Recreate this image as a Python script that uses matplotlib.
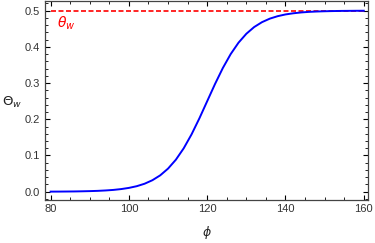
import matplotlib
matplotlib.use("Agg")
import matplotlib.pyplot as plt
from matplotlib.ticker import MultipleLocator

# values
phi = [80, 82, 84, 86, 88, 90, 92, 94, 96, 98,
       100, 102, 104, 106, 108, 110, 112, 114, 116, 118,
       120, 122, 124, 126, 128, 130, 132, 134, 136, 138,
       140, 142, 144, 146, 148, 150, 152, 154, 156, 158, 160]
theta_w = [0.0002, 0.0003, 0.0005, 0.0007, 0.0011, 0.0016, 0.0023, 0.0034, 0.0049, 0.0072,
           0.0105, 0.0152, 0.0220, 0.0317, 0.0452, 0.0638, 0.0884, 0.1199, 0.1583, 0.2025,
           0.2500, 0.2975, 0.3417, 0.3801, 0.4116, 0.4362, 0.4548, 0.4683, 0.4780, 0.4848,
           0.4896, 0.4928, 0.4951, 0.4967, 0.4977, 0.4984, 0.4989, 0.4993, 0.4995, 0.4997, 0.4998]
theta_limit = 0.5

plt.rcParams['font.family'] = ['Liberation Sans', 'DejaVu Sans']
plt.rcParams['mathtext.fontset'] = 'dejavusans'

fig = plt.figure(figsize=(3.75, 2.43), dpi=100)
ax = fig.add_axes([0.1187, 0.177, 0.862, 0.819])

ax.plot([phi[0], phi[-1]], [theta_limit, theta_limit], color='red', lw=1.2,
        dashes=(3.0, 1.5))
ax.plot(phi, theta_w, color='blue', lw=1.4)
ax.text(81.6, 0.465, r'$\theta_w$', color='red', fontsize=10, ha='left', va='center')

ax.set_xlim(78.44, 161.02)
ax.set_ylim(-0.0229, 0.5268)
ax.xaxis.set_major_locator(MultipleLocator(20))
ax.xaxis.set_minor_locator(MultipleLocator(5))
ax.yaxis.set_major_locator(MultipleLocator(0.1))
ax.yaxis.set_minor_locator(MultipleLocator(0.02))
ax.yaxis.set_major_formatter(plt.FuncFormatter(lambda v, p: f"{v:.1f}"))
ax.tick_params(which='both', direction='in', top=True, right=True,
               labelsize=8, labelcolor='#333333', pad=3)
ax.tick_params(which='major', length=3.5, width=0.8)
ax.tick_params(which='minor', length=2, width=0.6)
for s in ax.spines.values():
    s.set_linewidth(0.9)
    s.set_color('#444444')

fig.text(0.004, 0.58, r'$\Theta_w$', fontsize=9.5, ha='left', va='center', color='#222222')
fig.text(0.553, 0.045, r'$\phi$', fontsize=9, ha='center', va='center', color='#222222')

fig.savefig('out.png', dpi=100)
